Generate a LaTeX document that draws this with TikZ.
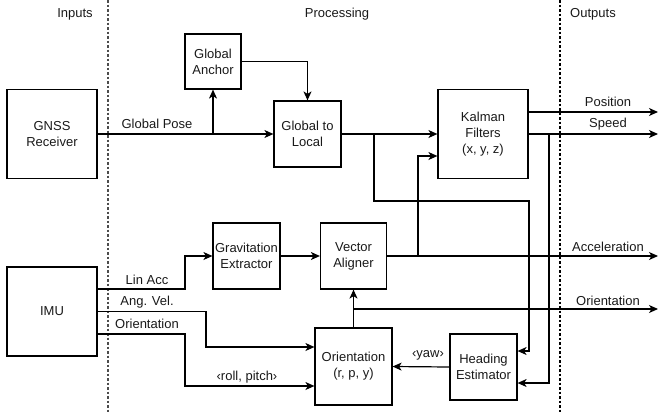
\documentclass[tikz,border=0pt]{standalone}
\usepackage{fontspec}
\setmainfont{Liberation Sans}
\usetikzlibrary{arrows.meta,calc}
\begin{document}
\begin{tikzpicture}[x=1pt,y=-1pt,
  blk/.style={draw, line width=1.2pt, inner sep=0pt, align=center, font=\fontsize{13}{16}\selectfont, text=black!90},
  arr/.style={line width=1.2pt, -{Stealth[length=9pt,width=8pt,inset=2.5pt]}},
  ln/.style={line width=1.2pt},
  lbl/.style={font=\fontsize{13}{16}\selectfont, text=black!90, inner sep=0pt},
  sep/.style={line width=1.2pt, dash pattern=on 2.5pt off 2pt}]
\useasboundingbox (0,0) rectangle (658,413);
% separators
\draw[sep, black!70] (108,0) -- (108,413);
\draw[sep, black] (560,0) -- (560,413);
% headers
\node[lbl] (hin) at (75,14) {Inputs};
\node[lbl] (hproc) at (337,14) {Processing};
\node[lbl] (hout) at (593,14) {Outputs};
% blocks
\node[blk, minimum width=90pt, minimum height=89pt] (gnss) at (52,134) {GNSS\\Receiver};
\node[blk, minimum width=56pt, minimum height=55pt] (anchor) at (213,61.5) {Global\\Anchor};
\node[blk, minimum width=67pt, minimum height=66pt] (g2l) at (307.5,134) {Global to\\Local};
\node[blk, minimum width=90pt, minimum height=89pt] (kal) at (483,134) {Kalman\\Filters\\(x, y, z)};
\node[blk, minimum width=90pt, minimum height=89pt] (imu) at (52,311.5) {IMU};
\node[blk, minimum width=67pt, minimum height=66pt] (grav) at (246.5,256) {Gravitation\\Extractor};
\node[blk, minimum width=66pt, minimum height=66pt] (vec) at (353.5,256) {Vector\\Aligner};
\node[blk, minimum width=77pt, minimum height=77pt] (ori) at (353.5,366.5) {Orientation\\(r, p, y)};
\node[blk, minimum width=67pt, minimum height=66pt] (head) at (483.5,367) {Heading\\Estimator};
% output ends
\coordinate (oPos) at (658,112);
\coordinate (oSpd) at (658,134);
\coordinate (oAcc) at (658,256);
\coordinate (oOri) at (658,309);
% GNSS path
\draw[arr] (gnss) -- (g2l);
\coordinate (gpB) at (anchor.south |- gnss.east);
\draw[arr] (gpB) -- (anchor.south);
\node[lbl] (lgp) at (157,124) {Global Pose};
\draw[arr] (anchor.east) -| (g2l.north);
% Global to local -> Kalman
\draw[arr] (g2l) -- (kal);
\coordinate (b1) at (374,134);
\draw[arr] (b1) |- (529,201) |- ($(head.east)+(0,-16)$);
% Vector aligner -> Kalman
\coordinate (b2) at (418,256);
\draw[arr] (b2) |- ($(kal.west)+(0,22)$);
% Kalman outputs
\draw[arr] ($(kal.east)+(0,-22)$) -- (oPos);
\draw[arr] (kal.east) -- (oSpd);
\node[lbl] (lpos) at (608,102) {Position};
\node[lbl] (lspd) at (608,124.5) {Speed};
\coordinate (b3) at (549,134);
\draw[arr] (b3) |- ($(head.east)+(0,16)$);
% IMU
\draw[arr] ($(imu.east)+(0,-22.5)$) -| (185,256) -- (grav.west);
\draw[arr] (imu.east) -| (206,347) -- ($(ori.west)+(0,-19.5)$);
\draw[arr] ($(imu.east)+(0,22.5)$) -| (185,386) -- ($(ori.west)+(0,19.5)$);
\node[lbl] (llin) at (147,280) {Lin Acc};
\node[lbl] (lang) at (147,302) {Ang. Vel.};
\node[lbl] (lori) at (147,324) {Orientation};
\node[lbl] (lrp) at (247,377) {‹roll, pitch›};
% grav -> vec
\draw[arr] (grav) -- (vec);
\draw[arr] (vec.east) -- (oAcc);
\node[lbl] (lacc) at (608,247) {Acceleration};
% orientation -> vec
\draw[arr] (ori.north) -- (vec.south);
\coordinate (b4) at (353.5,309);
\draw[arr] (b4) -- (oOri);
\node[lbl] (lori2) at (608,301) {Orientation};
% heading -> orientation
\draw[arr] (head.west) -- (ori.east);
\node[lbl] (lyaw) at (428,355) {‹yaw›};
\end{tikzpicture}
\end{document}
